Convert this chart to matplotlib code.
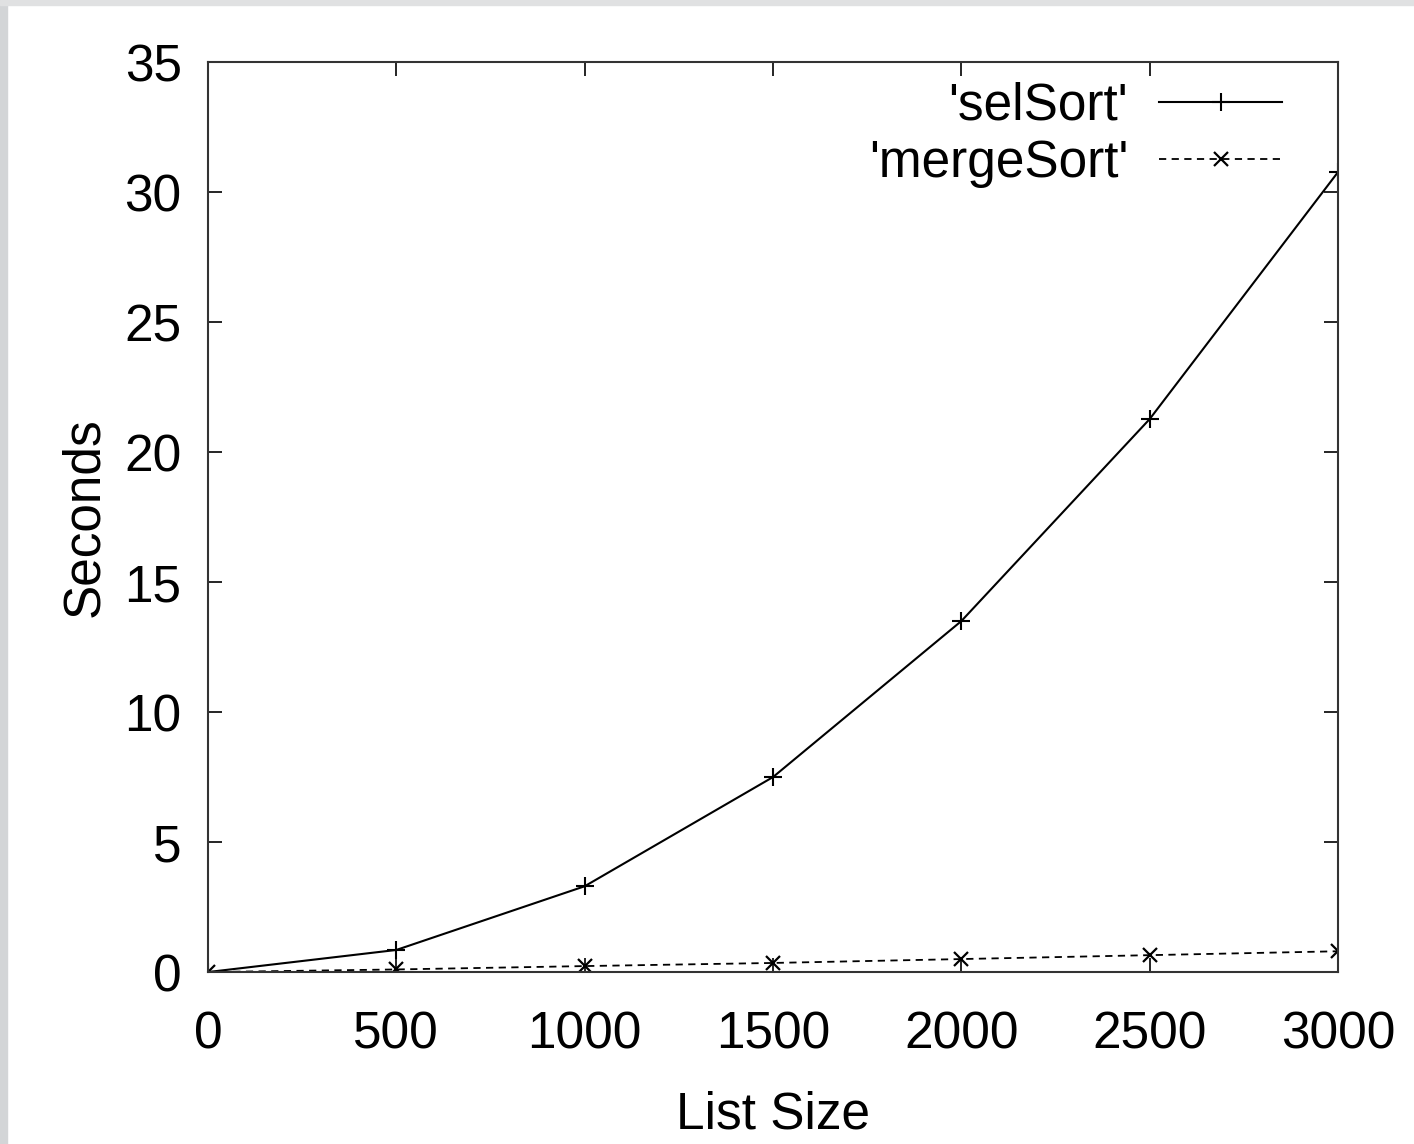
import matplotlib
matplotlib.use("Agg")
import matplotlib.pyplot as plt
from matplotlib.patches import Rectangle

# Timing data
list_sizes = [0, 500, 1000, 1500, 2000, 2500, 3000]
sel_sort = [0.0, 0.85, 3.3, 7.5, 13.5, 21.27, 30.77]
merge_sort = [0.0, 0.1, 0.23, 0.35, 0.5, 0.65, 0.8]

x_ticks = [0, 500, 1000, 1500, 2000, 2500, 3000]
y_ticks = [0, 5, 10, 15, 20, 25, 30, 35]

plt.rcParams['font.family'] = ['Liberation Sans', 'DejaVu Sans']

fig = plt.figure(figsize=(14.14, 11.44), dpi=100)
ax = fig.add_axes([0.1471, 0.1503, 0.7992, 0.7955])

# grey scan border on the left and top
fig.patches.append(Rectangle((0, 0), 7 / 1414, 1, transform=fig.transFigure,
                             color='#d3d5d7', zorder=0))
fig.patches.append(Rectangle((0, 1 - 5 / 1144), 1, 5 / 1144, transform=fig.transFigure,
                             color='#e0e1e2', zorder=0))

ax.plot(list_sizes, sel_sort, color='black', linestyle='-', linewidth=1.5,
        marker='+', markersize=13, markeredgewidth=1.5, label="'selSort'")
ax.plot(list_sizes, merge_sort, color='black', linestyle=(0, (4, 3)), linewidth=1.3,
        marker='x', markersize=10, markeredgewidth=1.6, label="'mergeSort'")

ax.set_xlim(0, 3000)
ax.set_ylim(0, 35)
ax.set_xticks(x_ticks)
ax.set_yticks(y_ticks)
ax.tick_params(direction='in', length=10, width=1.2, top=True, right=True,
               labelsize=37, colors='black')
ax.tick_params(axis='x', pad=28)
ax.tick_params(axis='y', pad=19)
for s in ax.spines.values():
    s.set_linewidth(1.5)
    s.set_color('#333333')

ax.set_xlabel('List Size', fontsize=37, labelpad=22)
ax.set_ylabel('Seconds', fontsize=37, labelpad=11)

leg = ax.legend(loc='upper right', bbox_to_anchor=(0.978, 1.012), frameon=False,
                markerfirst=False, fontsize=37, handlelength=2.4,
                handletextpad=0.6, labelspacing=0.15, borderaxespad=0.2)

fig.savefig('out.png', dpi=100, facecolor='white')
